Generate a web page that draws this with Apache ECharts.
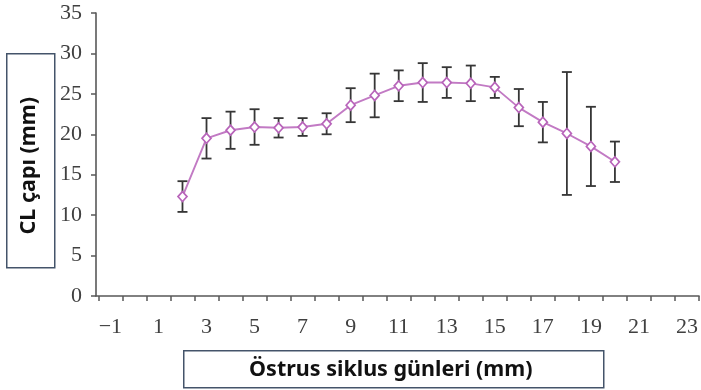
<!DOCTYPE html>
<html>
<head>
<meta charset="utf-8">
<script src="https://cdn.jsdelivr.net/npm/echarts@6/dist/echarts.min.js"></script>
<style>
  html, body { margin: 0; padding: 0; background: #ffffff; }
  #chart { width: 701px; height: 390px; }
</style>
</head>
<body>
<div id="chart"></div>
<script>
// Corpus luteum diameter across the oestrous cycle (mean ± SD)
const days = [2, 3, 4, 5, 6, 7, 8, 9, 10, 11, 12, 13, 14, 15, 16, 17, 18, 19, 20];
const meanDiameter = [12.3, 19.5, 20.5, 20.9, 20.8, 20.9, 21.3, 23.6, 24.8, 26.0, 26.4, 26.4, 26.3, 25.8, 23.3, 21.5, 20.1, 18.5, 16.6];
const sdDiameter = [1.9, 2.5, 2.3, 2.2, 1.2, 1.1, 1.3, 2.1, 2.7, 1.9, 2.4, 1.9, 2.2, 1.3, 2.3, 2.5, 7.6, 4.9, 2.5];
const xLabelValues = [-1, 1, 3, 5, 7, 9, 11, 13, 15, 17, 19, 21, 23];
const xTickValues = [-1.5, -0.5, 0.5, 1.5, 2.5, 3.5, 4.5, 5.5, 6.5, 7.5, 8.5, 9.5, 10.5, 11.5, 12.5, 13.5, 14.5, 15.5, 16.5, 17.5, 18.5, 19.5, 20.5, 21.5, 22.5, 23.5];
const yAxisTitle = 'CL çapı (mm)';
const xAxisTitle = 'Östrus siklus günleri (mm)';

const lineData = days.map((d, i) => [d, meanDiameter[i]]);
const errorData = days.map((d, i) => [d, meanDiameter[i] - sdDiameter[i], meanDiameter[i] + sdDiameter[i]]);

const axisColor = '#585858';
const serif = '"Liberation Serif", "DejaVu Serif", serif';
const sans = '"Noto Sans", "Open Sans", sans-serif';

const chart = echarts.init(document.getElementById('chart'), null, { renderer: 'canvas' });

chart.setOption({
  animation: false,
  backgroundColor: '#ffffff',
  grid: { left: 96, right: 0, top: 13, bottom: 94, containLabel: false },
  xAxis: {
    type: 'value',
    min: -1.6,
    max: 23.5,
    splitLine: { show: false },
    axisLine: { show: true, onZero: false, lineStyle: { color: axisColor, width: 1.6 } },
    axisTick: { show: true, inside: false, length: 5, customValues: xTickValues, lineStyle: { color: axisColor, width: 1.5 } },
    axisLabel: {
      customValues: xLabelValues,
      margin: 20,
      fontFamily: serif,
      fontSize: 22,
      color: '#404040',
      formatter: v => String(v).replace('-', '\u2212')
    }
  },
  yAxis: {
    type: 'value',
    min: 0,
    max: 35,
    interval: 5,
    splitLine: { show: false },
    axisLine: { show: true, onZero: false, lineStyle: { color: axisColor, width: 1.6 } },
    axisTick: { show: true, inside: false, length: 5, lineStyle: { color: axisColor, width: 1.5 } },
    axisLabel: {
      margin: 14,
      fontFamily: serif,
      fontSize: 22,
      color: '#404040'
    }
  },
  series: [
    {
      type: 'custom',
      name: 'SD',
      data: errorData,
      z: 2,
      renderItem: function (params, api) {
        const x = api.value(0);
        const lo = api.coord([x, api.value(1)]);
        const hi = api.coord([x, api.value(2)]);
        const half = 5;
        const style = { stroke: '#363636', lineWidth: 1.8 };
        return {
          type: 'group',
          children: [
            { type: 'line', shape: { x1: lo[0], y1: lo[1], x2: hi[0], y2: hi[1] }, style: style },
            { type: 'line', shape: { x1: hi[0] - half, y1: hi[1], x2: hi[0] + half, y2: hi[1] }, style: style },
            { type: 'line', shape: { x1: lo[0] - half, y1: lo[1], x2: lo[0] + half, y2: lo[1] }, style: style }
          ]
        };
      }
    },
    {
      type: 'line',
      name: 'CL',
      data: lineData,
      z: 3,
      symbol: 'diamond',
      symbolSize: [9, 10],
      lineStyle: { color: '#c27ac4', width: 1.9 },
      itemStyle: { color: '#ffffff', borderColor: '#b864ba', borderWidth: 1.7 }
    }
  ],
  graphic: [
    {
      type: 'group',
      left: 6,
      top: 53,
      children: [
        { type: 'rect', shape: { x: 0, y: 0, width: 48, height: 214 }, style: { fill: '#ffffff', stroke: '#44546a', lineWidth: 1.5 } },
        {
          type: 'text',
          x: 22,
          y: 112,
          rotation: Math.PI / 2,
          style: {
            text: yAxisTitle,
            fontFamily: sans,
            fontWeight: 'bold',
            fontSize: 21.5,
            fill: '#111111',
            align: 'center',
            verticalAlign: 'middle'
          }
        }
      ]
    },
    {
      type: 'group',
      left: 183,
      top: 350,
      children: [
        { type: 'rect', shape: { x: 0, y: 0, width: 420, height: 37 }, style: { fill: '#ffffff', stroke: '#44546a', lineWidth: 1.5 } },
        {
          type: 'text',
          x: 207,
          y: 19,
          style: {
            text: xAxisTitle,
            fontFamily: sans,
            fontWeight: 'bold',
            fontSize: 21.5,
            fill: '#111111',
            align: 'center',
            verticalAlign: 'middle'
          }
        }
      ]
    }
  ]
});
</script>
</body>
</html>
